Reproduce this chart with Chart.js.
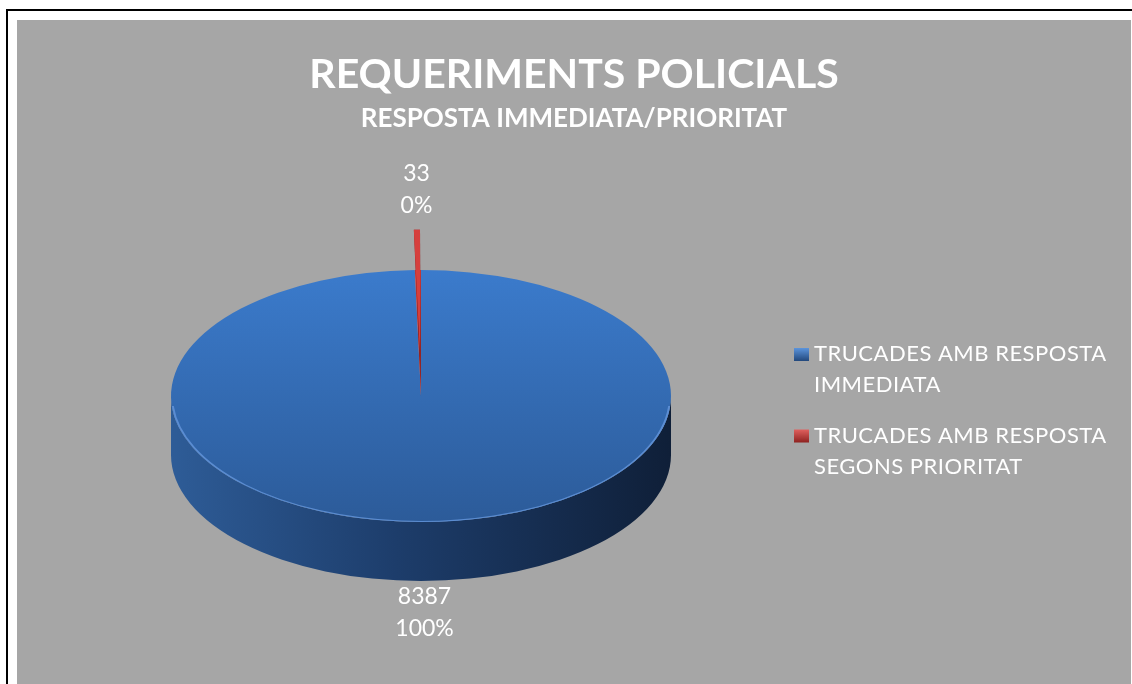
<!DOCTYPE html>
<html>
<head>
<meta charset="utf-8">
<script src="https://cdn.jsdelivr.net/npm/chart.js@4.4.1/dist/chart.umd.min.js"></script>
<style>
html, body { margin: 0; padding: 0; background: #fff; }
body { width: 1132px; height: 684px; overflow: hidden; position: relative; }
#frame { position: absolute; left: 6px; top: 9px; right: 0; bottom: 0; border-top: 2px solid #000; border-left: 2px solid #000; }
#wrap { position: absolute; left: 17px; top: 20px; width: 1114px; height: 664px; background: #a6a6a6; }
</style>
</head>
<body>
<div id="frame"></div>
<div id="wrap"><canvas id="pie3d"></canvas></div>
<script>
// Data
var categories = [
    ["TRUCADES AMB RESPOSTA", "IMMEDIATA"],
    ["TRUCADES AMB RESPOSTA", "SEGONS PRIORITAT"]
];
var calls = [8387, 33];
var titleText = "REQUERIMENTS POLICIALS";
var subtitleText = "RESPOSTA IMMEDIATA/PRIORITAT";

// Look of the fake 3D pie
var PIE_X = 404, PIE_Y = 376;   // centre of the top face on the canvas
var TILT = 0.504;               // vertical squash of the disc
var DEPTH = 59;                 // height of the side wall
var RADIUS = 250;
var EXPLODE = [0, 80];          // how far each slice is pulled out
var sliceColors = ['#3572c0', '#d63f3d'];
var LABEL_GAP = 36;

function tilt(chart, ctx) {
    var el = chart.getDatasetMeta(0).data[0];
    ctx.translate(PIE_X, PIE_Y);
    ctx.scale(1, TILT);
    ctx.translate(-el.x, -el.y);
}

var pie3dPlugin = {
    id: 'pie3d',
    beforeDatasetsDraw: function (chart) {
        var ctx = chart.ctx;
        var el = chart.getDatasetMeta(0).data[0];
        var r = el.outerRadius, d = DEPTH / TILT;
        ctx.save();
        tilt(chart, ctx);
        var g = ctx.createLinearGradient(el.x - r, 0, el.x + r, 0);
        g.addColorStop(0, '#2e5c97');
        g.addColorStop(0.45, '#1d3d6b');
        g.addColorStop(1, '#0f1f38');
        ctx.beginPath();
        ctx.arc(el.x, el.y, r, 0, Math.PI);
        ctx.arc(el.x, el.y + d, r, Math.PI, 0, true);
        ctx.closePath();
        ctx.fillStyle = g;
        ctx.fill();
    },
    afterDatasetsDraw: function (chart) {
        var ctx = chart.ctx;
        var meta = chart.getDatasetMeta(0);
        var main = meta.data[0];
        // light rim on the front edge
        ctx.beginPath();
        ctx.arc(main.x, main.y, main.outerRadius - 1, 0.08, Math.PI - 0.08);
        ctx.lineWidth = 2;
        ctx.strokeStyle = 'rgba(95,145,215,0.9)';
        ctx.stroke();
        // pulled out slices: wall first, then the face moved outwards
        meta.data.forEach(function (slice, i) {
            var s = EXPLODE[i];
            if (!s) return;
            var mid = (slice.startAngle + slice.endAngle) / 2;
            var dx = Math.cos(mid) * s, dy = Math.sin(mid) * s;
            var wall = ctx.createLinearGradient(slice.x, slice.y, slice.x + dx * 4, slice.y + dy * 4);
            wall.addColorStop(0, 'rgba(110,25,25,0.6)');
            wall.addColorStop(0.3, '#7c1a1a');
            wall.addColorStop(1, '#9a2525');
            ctx.beginPath();
            ctx.moveTo(slice.x, slice.y);
            ctx.arc(slice.x + dx, slice.y + dy, slice.outerRadius, slice.startAngle, slice.endAngle);
            ctx.closePath();
            ctx.fillStyle = wall;
            ctx.fill();
            ctx.save();
            ctx.translate(dx, dy);
            slice.draw(ctx);
            ctx.restore();
        });
        ctx.restore();
    },
    afterDraw: function (chart) {
        var ctx = chart.ctx;
        var meta = chart.getDatasetMeta(0);
        var total = calls.reduce(function (a, b) { return a + b; }, 0);
        ctx.save();
        ctx.fillStyle = '#fff';
        ctx.textAlign = 'center';
        ctx.textBaseline = 'middle';
        ctx.font = '23px Lato';
        meta.data.forEach(function (el, i) {
            var mid = (el.startAngle + el.endAngle) / 2;
            var reach = el.outerRadius + EXPLODE[i];
            var sx = PIE_X + Math.cos(mid) * reach;
            var sy = PIE_Y + Math.sin(mid) * reach * TILT + (Math.sin(mid) > 0 ? DEPTH : 0);
            var cx = sx + Math.cos(mid) * LABEL_GAP;
            var cy = sy + Math.sin(mid) * LABEL_GAP;
            ctx.fillText(String(calls[i]), cx, cy - 20);
            ctx.fillText(Math.round(calls[i] / total * 100) + '%', cx, cy + 11.5);
        });

        // legend
        var lx = 777, ly = 334;
        ctx.textAlign = 'left';
        ctx.font = '22px Lato';
        ctx.letterSpacing = '0.5px';
        categories.forEach(function (lines, i) {
            var y0 = ly + i * 81.5;
            var g = ctx.createLinearGradient(0, y0 - 6, 0, y0 + 7);
            g.addColorStop(0, i ? '#e0605e' : '#5b94dc');
            g.addColorStop(1, i ? '#8e2220' : '#22487c');
            ctx.fillStyle = g;
            ctx.fillRect(lx, y0 - 6, 15, 13);
            ctx.fillStyle = '#fff';
            lines.forEach(function (t, j) {
                ctx.fillText(t, lx + 20, y0 + j * 31);
            });
        });
        ctx.restore();
    }
};

var ctx = document.getElementById('pie3d');

var chartData = {
    labels: categories.map(function (l) { return l.join(' '); }),
    datasets: [{
        data: calls,
        radius: RADIUS,
        borderWidth: 0,
        clip: false,
        backgroundColor: function (c) {
            var a = c.chart.chartArea;
            if (!a || c.dataIndex !== 0) return sliceColors[c.dataIndex];
            var cy = (a.top + a.bottom) / 2;
            var g = c.chart.ctx.createLinearGradient(0, cy - RADIUS, 0, cy + RADIUS);
            g.addColorStop(0, '#3b7bcc');
            g.addColorStop(1, '#2c5b99');
            return g;
        }
    }]
};

var chartOptions = {
    responsive: true,
    maintainAspectRatio: false,
    animation: false,
    events: [],
    layout: { padding: 0 },
    plugins: {
        legend: { display: false },
        tooltip: { enabled: false },
        title: {
            display: true,
            text: titleText,
            color: '#fff',
            font: { family: 'Lato', size: 41, weight: 'bold' },
            padding: { top: 30, bottom: 4 }
        },
        subtitle: {
            display: true,
            text: subtitleText,
            color: '#fff',
            font: { family: 'Lato', size: 26, weight: 'bold' },
            padding: { top: 0, bottom: 10 }
        }
    }
};

var pieChart = new Chart(ctx, {
    type: 'pie',
    data: chartData,
    options: chartOptions,
    plugins: [pie3dPlugin]
});
</script>
</body>
</html>
